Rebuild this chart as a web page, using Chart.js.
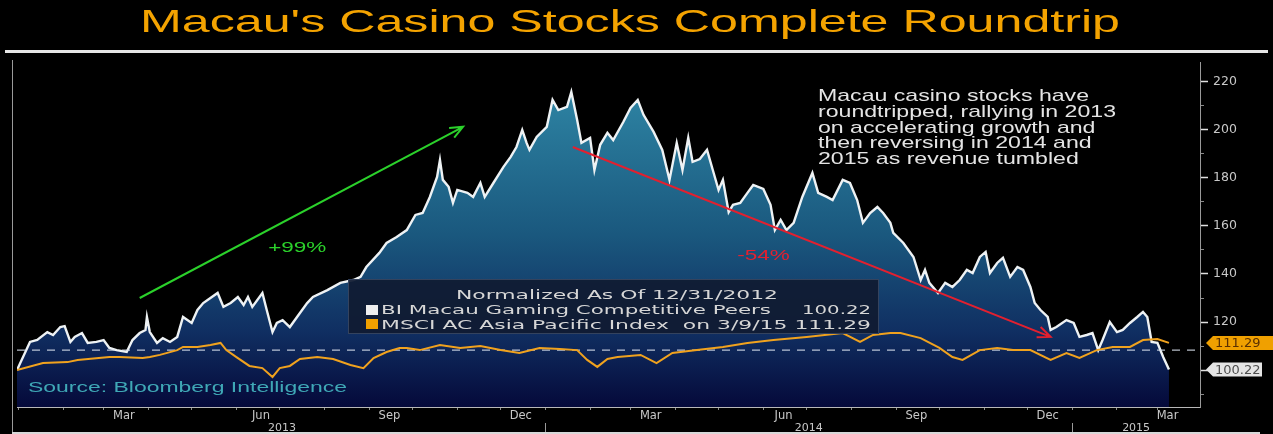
<!DOCTYPE html>
<html>
<head>
<meta charset="utf-8">
<script src="https://cdn.jsdelivr.net/npm/chart.js"></script>
<style>
  html, body { margin: 0; padding: 0; background: #000; }
  #wrap { width: 1273px; height: 434px; position: relative; }
</style>
</head>
<body>
<div id="wrap"><canvas id="myChart"></canvas></div>
<script>
// x values are days since 12/31/2012 (the normalisation date)
const startDate = "2012-12-31";

const peerDays = [
  0, 9, 14, 21, 25, 30, 33, 37, 40, 45,
  49, 55, 60, 64, 69, 76, 80, 85, 89, 90,
  92, 97, 101, 106, 111, 115, 121, 125, 129, 134,
  139, 143, 148, 153, 157, 160, 163, 170, 173, 177,
  180, 184, 189, 194, 201, 205, 215, 224, 233, 238,
  242, 251, 256, 263, 270, 276, 281, 286, 291, 293,
  295, 299, 302, 305, 312, 316, 321, 324, 330, 337,
  342, 346, 350, 353, 355, 360, 367, 371, 375, 381,
  384, 388, 391, 397, 400, 404, 409, 413, 420, 425,
  430, 434, 441, 447, 452, 457, 461, 465, 468, 473,
  478, 482, 486, 489, 493, 496, 501, 506, 510, 517,
  522, 525, 529, 533, 538, 544, 551, 555, 561, 565,
  572, 577, 582, 586, 591, 596, 600, 605, 607, 614,
  621, 626, 629, 632, 638, 643, 648, 653, 658, 662,
  667, 671, 674, 679, 683, 688, 693, 697, 702, 705,
  709, 714, 716, 720, 727, 732, 736, 741, 745, 749,
  752, 757, 762, 766, 771, 776, 780, 783, 786, 790,
  794, 798
];
const peerValues = [
  100, 111.7, 112.5, 115.8, 114.6, 117.9, 118.3, 111.7, 113.8, 115.4,
  111.3, 111.7, 112.5, 109.2, 108.3, 107.5, 112.5, 115.4, 116.7, 122.1,
  115.8, 111.3, 113.3, 111.7, 113.8, 122.1, 119.6, 125.0, 127.9, 130.0,
  132.1, 126.3, 127.9, 130.4, 127.1, 130.4, 126.3, 132.1, 125.0, 115.8,
  119.6, 120.8, 117.9, 122.1, 127.9, 130.4, 133.3, 136.3, 137.5, 138.8,
  142.9, 148.8, 152.9, 155.4, 158.3, 164.6, 165.4, 172.1, 180.4, 187.5,
  179.2, 176.3, 169.6, 175.0, 173.8, 172.1, 177.9, 172.1, 177.9, 184.6,
  188.8, 192.9, 200.0, 194.6, 191.7, 197.1, 201.3, 212.5, 208.3, 209.6,
  215.8, 204.2, 194.6, 196.7, 183.3, 193.8, 198.8, 195.8, 203.3, 209.2,
  212.5, 206.3, 199.2, 191.7, 179.2, 194.6, 183.3, 196.7, 186.7, 187.9,
  191.7, 183.3, 175.0, 179.2, 165.8, 168.8, 169.6, 173.8, 177.1, 175.4,
  168.8, 158.3, 162.5, 158.3, 161.3, 172.1, 182.1, 173.8, 172.1, 170.8,
  179.2, 177.9, 170.8, 161.3, 165.4, 167.9, 165.4, 161.3, 157.1, 152.9,
  147.1, 137.5, 141.7, 136.3, 132.1, 136.3, 134.6, 137.5, 141.7, 140.4,
  147.1, 149.2, 140.4, 144.6, 146.7, 138.8, 142.9, 141.7, 134.6, 127.9,
  125.0, 122.1, 116.7, 117.9, 120.8, 119.6, 113.8, 114.6, 115.4, 108.3,
  112.5, 120.0, 115.8, 116.7, 119.6, 122.1, 124.2, 122.1, 111.7, 111.3,
  105.4, 100.22
];

const msciDays = [
  0, 18, 35, 42, 64, 71, 87, 92, 99, 111,
  115, 125, 134, 141, 145, 152, 161, 170, 177, 182,
  189, 196, 208, 219, 231, 240, 247, 256, 265, 270,
  279, 293, 307, 321, 335, 348, 362, 376, 388, 395,
  402, 409, 416, 432, 443, 454, 471, 489, 506, 524,
  547, 572, 584, 593, 605, 612, 626, 639, 648, 655,
  667, 679, 690, 702, 716, 727, 736, 748, 759, 771,
  780, 790, 798
];
const msciValues = [
  100, 102.9, 103.3, 104.2, 105.4, 105.4, 105.0, 105.4, 106.3, 108.3,
  109.6, 109.6, 110.4, 111.3, 108.3, 105.4, 101.7, 100.8, 97.1, 100.8,
  101.7, 104.6, 105.4, 104.6, 102.1, 100.8, 105.0, 107.5, 109.2, 109.2,
  108.3, 110.4, 109.2, 110.0, 108.3, 107.1, 109.2, 108.8, 108.3, 104.2,
  101.3, 104.6, 105.4, 106.3, 102.9, 107.1, 108.3, 109.6, 111.3, 112.5,
  113.8, 115.4, 111.7, 114.6, 115.4, 115.4, 113.3, 109.2, 105.4, 104.2,
  108.3, 109.2, 108.3, 108.3, 104.2, 107.1, 105.0, 108.3, 109.6, 109.6,
  112.5, 112.9, 111.29
];

const refLevel = 108.3;
const lastPeers = "100.22";
const lastMsci = "111.29";

const monthLabels = ["Mar", "Jun", "Sep", "Dec", "Mar", "Jun", "Sep", "Dec", "Mar"];
const monthLabelDates = ["2013-03-15", "2013-06-18", "2013-09-15", "2013-12-15",
  "2014-03-15", "2014-06-15", "2014-09-15", "2014-12-15", "2015-03-08"];
const yearLabels = ["2013", "2014", "2015"];
const yearStarts = ["2013-01-01", "2014-01-01", "2015-01-01"];
const yTicks = [100, 120, 140, 160, 180, 200, 220];
const yMinorTicks = [90, 110, 130, 150, 170, 190, 210];

const titleText = "Macau's Casino Stocks Complete Roundtrip";
const noteLines = [
  "Macau casino stocks have",
  "roundtripped, rallying in 2013",
  "on accelerating growth and",
  "then reversing in 2014 and",
  "2015 as revenue tumbled"
];
const upArrow = { from: [85, 130], to: [309, 201.3], color: "#2bd12b", text: "+99%", at: [174, 149] };
const downArrow = { from: [385, 192.9], to: [716, 113.8], color: "#e3202f", text: "-54%", at: [499, 145.8] };

const xMax = 819.5;
const yMin = 84.6, yMax = 228.3;

const dayOf = (s) => (Date.parse(s) - Date.parse(startDate)) / 86400000;

// month boundaries for the small tick marks
let monthStarts = [];
for (let y = 2013; y <= 2015; y++) {
  for (let m = 1; m <= 12; m++) {
    const d = dayOf(y + "-" + String(m).padStart(2, "0") + "-01");
    if (d <= xMax) monthStarts.push(d);
  }
}
const monthLabelDays = monthLabelDates.map(dayOf);
const yearCenters = yearStarts.map((s, i) => {
  const a = Math.max(0, dayOf(s));
  const b = i < yearStarts.length - 1 ? dayOf(yearStarts[i + 1]) : xMax;
  return (a + b) / 2;
});

const areaGradient = (context) => {
  const { ctx, chartArea } = context.chart;
  if (!chartArea) return "rgba(0,0,0,0)";
  const g = ctx.createLinearGradient(0, chartArea.top, 0, chartArea.bottom);
  g.addColorStop(0, "#3396b2");
  g.addColorStop(0.12, "#2c80a0");
  g.addColorStop(0.5, "#1a587e");
  g.addColorStop(0.78, "#102f62");
  g.addColorStop(1, "#05093a");
  return g;
};

const stretchText = (ctx, text, x, y, width, font, color) => {
  ctx.save();
  ctx.font = font;
  ctx.fillStyle = color;
  ctx.textAlign = "left";
  ctx.textBaseline = "alphabetic";
  const w = ctx.measureText(text).width;
  ctx.translate(x, y);
  ctx.scale(width / w, 1);
  ctx.fillText(text, 0, 0);
  ctx.restore();
};

const drawArrow = (ctx, x, y, a) => {
  const x1 = x.getPixelForValue(a.from[0]), y1 = y.getPixelForValue(a.from[1]);
  const x2 = x.getPixelForValue(a.to[0]), y2 = y.getPixelForValue(a.to[1]);
  const ang = Math.atan2(y2 - y1, x2 - x1);
  ctx.save();
  ctx.strokeStyle = a.color;
  ctx.lineWidth = 2;
  ctx.beginPath();
  ctx.moveTo(x1, y1);
  ctx.lineTo(x2, y2);
  ctx.moveTo(x2 - 14 * Math.cos(ang - 0.4), y2 - 14 * Math.sin(ang - 0.4));
  ctx.lineTo(x2, y2);
  ctx.lineTo(x2 - 14 * Math.cos(ang + 0.4), y2 - 14 * Math.sin(ang + 0.4));
  ctx.stroke();
  ctx.restore();
  ctx.save();
  ctx.font = '15px "Liberation Sans"';
  ctx.fillStyle = a.color;
  const tx = x.getPixelForValue(a.at[0]), ty = y.getPixelForValue(a.at[1]);
  ctx.translate(tx, ty);
  ctx.scale(1.5, 1);
  ctx.fillText(a.text, 0, 0);
  ctx.restore();
};

const drawMarker = (ctx, left, yPix, right, text, fill, textColor) => {
  ctx.save();
  ctx.fillStyle = fill;
  ctx.beginPath();
  ctx.moveTo(left, yPix);
  ctx.lineTo(left + 7, yPix - 7);
  ctx.lineTo(right, yPix - 7);
  ctx.lineTo(right, yPix + 7);
  ctx.lineTo(left + 7, yPix + 7);
  ctx.closePath();
  ctx.fill();
  ctx.fillStyle = textColor;
  ctx.font = '13px "DejaVu Sans"';
  ctx.textBaseline = "middle";
  ctx.fillText(text, left + 9, yPix + 1);
  ctx.restore();
};

const decor = {
  id: "decor",
  beforeDraw(chart) {
    const { ctx, width, height } = chart;
    ctx.save();
    ctx.fillStyle = "#000";
    ctx.fillRect(0, 0, width, height);
    ctx.fillStyle = "#e6e6e6";
    ctx.fillRect(5, 50, 1263, 3);
    ctx.restore();
    stretchText(ctx, titleText, 140, 32, 980, '32px "Liberation Sans"', "#f4a300");
  },
  afterDatasetsDraw(chart) {
    const { ctx, scales: { x, y } } = chart;
    drawArrow(ctx, x, y, upArrow);
    drawArrow(ctx, x, y, downArrow);

    stretchText(ctx, "Source: Bloomberg Intelligence", 28, 392, 319, '15px "Liberation Sans"', "#3fa8b6");

    // legend box
    ctx.save();
    ctx.fillStyle = "rgba(16,27,50,0.93)";
    ctx.fillRect(348, 279, 530, 54);
    ctx.strokeStyle = "#34435e";
    ctx.lineWidth = 1;
    ctx.strokeRect(348.5, 279.5, 530, 54);
    ctx.fillStyle = "#eeeeee";
    ctx.fillRect(366, 305, 12, 10);
    ctx.fillStyle = "#f0a000";
    ctx.fillRect(366, 319, 12, 10);
    ctx.restore();
    const lf = '13px "DejaVu Sans"';
    stretchText(ctx, "Normalized As Of 12/31/2012", 456, 299, 322, lf, "#d6d6d6");
    stretchText(ctx, "BI Macau Gaming Competitive Peers", 381, 314, 390, lf, "#d6d6d6");
    stretchText(ctx, lastPeers, 802, 314, 69, lf, "#d6d6d6");
    stretchText(ctx, "MSCI AC Asia Pacific Index  on 3/9/15 " + lastMsci, 381, 329, 490, lf, "#d6d6d6");

    // note
    ctx.save();
    ctx.font = '17px "Liberation Sans"';
    const sx = 298 / ctx.measureText(noteLines[1]).width;
    ctx.fillStyle = "#e4e4e4";
    noteLines.forEach((t, i) => {
      ctx.save();
      ctx.translate(818, 101 + i * 15.8);
      ctx.scale(sx, 1);
      ctx.fillText(t, 0, 0);
      ctx.restore();
    });
    ctx.restore();
  },
  afterDraw(chart) {
    const { ctx, chartArea, scales: { x, y } } = chart;
    const tip = chartArea.right + 6;
    drawMarker(ctx, tip, y.getPixelForValue(parseFloat(lastMsci)), 1275, lastMsci, "#f0a000", "#5a3000");
    drawMarker(ctx, tip, y.getPixelForValue(parseFloat(lastPeers)), 1262, lastPeers, "#e4e4e4", "#4e4e4e");

    ctx.save();
    ctx.strokeStyle = "#9a9a9a";
    ctx.lineWidth = 1;
    ctx.beginPath();
    yearStarts.slice(1).forEach((s) => {
      const px = Math.round(x.getPixelForValue(dayOf(s))) + 0.5;
      ctx.moveTo(px, chartArea.bottom + 16);
      ctx.lineTo(px, chartArea.bottom + 26);
    });
    ctx.moveTo(12.5, 60);
    ctx.lineTo(12.5, 432);
    ctx.stroke();
    ctx.fillStyle = "#d8d8d8";
    ctx.fillRect(12, 432, 1248, 2);
    ctx.restore();
  }
};

const ctx = document.getElementById("myChart");
new Chart(ctx, {
  type: "line",
  data: {
    datasets: [
      {
        label: "BI Macau Gaming Competitive Peers",
        data: peerDays.map((d, i) => ({ x: d, y: peerValues[i] })),
        borderColor: "#eef2f4",
        borderWidth: 2.4,
        pointRadius: 0,
        tension: 0,
        fill: "start",
        backgroundColor: areaGradient,
        order: 3
      },
      {
        label: "reference",
        data: [{ x: 0, y: refLevel }, { x: xMax, y: refLevel }],
        borderColor: "rgba(215,222,235,0.85)",
        borderWidth: 1.2,
        borderDash: [8, 7],
        pointRadius: 0,
        fill: false,
        order: 2
      },
      {
        label: "MSCI AC Asia Pacific Index",
        data: msciDays.map((d, i) => ({ x: d, y: msciValues[i] })),
        borderColor: "#f0a21e",
        borderWidth: 2,
        pointRadius: 0,
        tension: 0,
        fill: false,
        order: 1
      }
    ]
  },
  options: {
    responsive: true,
    maintainAspectRatio: false,
    animation: false,
    layout: { padding: { left: 17, top: 62, right: 0, bottom: 0 } },
    plugins: { legend: { display: false }, tooltip: { enabled: false } },
    scales: {
      x: {
        type: "linear", position: "bottom", min: 0, max: xMax, weight: 0,
        afterBuildTicks: (s) => { s.ticks = monthStarts.map((v) => ({ value: v })); },
        afterFit: (s) => { s.height = 1; },
        ticks: { display: false },
        grid: { drawOnChartArea: false, drawTicks: true, tickLength: 3, color: "#8a8a8a" },
        border: { display: true, color: "#b8b8b8", width: 1 }
      },
      xm: {
        type: "linear", position: "bottom", min: 0, max: xMax, weight: 1,
        afterBuildTicks: (s) => { s.ticks = monthLabelDays.map((v) => ({ value: v })); },
        afterFit: (s) => { s.height = 14; },
        ticks: {
          autoSkip: false, maxRotation: 0, padding: 1, color: "#c8c8c8",
          font: { family: "DejaVu Sans", size: 11.5 },
          callback: (v, i) => monthLabels[i]
        },
        grid: { display: false, drawTicks: false },
        border: { display: false }
      },
      xy: {
        type: "linear", position: "bottom", min: 0, max: xMax, weight: 2,
        afterBuildTicks: (s) => { s.ticks = yearCenters.map((v) => ({ value: v })); },
        afterFit: (s) => { s.height = 12; },
        ticks: {
          autoSkip: false, maxRotation: 0, padding: 0, color: "#c8c8c8",
          font: { family: "DejaVu Sans", size: 11 },
          callback: (v, i) => yearLabels[i]
        },
        grid: { display: false, drawTicks: false },
        border: { display: false }
      },
      y: {
        type: "linear", position: "right", min: yMin, max: yMax, weight: 1,
        afterBuildTicks: (s) => { s.ticks = yTicks.map((v) => ({ value: v })); },
        afterFit: (s) => { s.width = 73; },
        ticks: { color: "#c8c8c8", padding: 5, font: { family: "DejaVu Sans", size: 12.5 } },
        grid: { drawOnChartArea: false, drawTicks: true, tickLength: 8, tickWidth: 1.5, color: "#e0e0e0" },
        border: { display: true, color: "#9a9a9a", width: 1 }
      },
      y2: {
        type: "linear", position: "right", min: yMin, max: yMax, weight: 0,
        afterBuildTicks: (s) => { s.ticks = yMinorTicks.map((v) => ({ value: v })); },
        afterFit: (s) => { s.width = 0; },
        ticks: { display: false },
        grid: { drawOnChartArea: false, drawTicks: true, tickLength: 4, color: "#8a8a8a" },
        border: { display: false }
      }
    }
  },
  plugins: [decor]
});
</script>
</body>
</html>
